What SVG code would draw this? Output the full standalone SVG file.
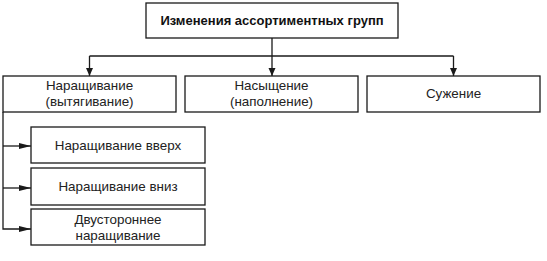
<svg xmlns="http://www.w3.org/2000/svg" width="547" height="261" viewBox="0 0 547 261">
<style>
.box{fill:#fff;stroke:#1a1a1a;stroke-width:1.3}
.t{font-family:"Liberation Sans",Arial,sans-serif;font-size:13.4px;fill:#222;text-anchor:middle}
.b{font-weight:bold;fill:#111;font-size:13px}
.c{fill:none;stroke:#1a1a1a;stroke-width:1.3}
</style>
<defs>
<marker id="ad" viewBox="0 0 8 10" refX="8" refY="5" markerWidth="9" markerHeight="10" markerUnits="userSpaceOnUse" orient="auto">
<path d="M0,1.5 L8,5 L0,8.5 Z" fill="#1a1a1a"/>
</marker>
<marker id="ar" viewBox="0 0 12 8" refX="12" refY="4" markerWidth="12" markerHeight="8" markerUnits="userSpaceOnUse" orient="auto">
<path d="M0,1 L12,4 L0,7 Z" fill="#1a1a1a"/>
</marker>
</defs>
<g id="connectors">
<path class="c" d="M272,38 V76" marker-end="url(#ad)"/>
<path class="c" d="M89.5,56 H453.5"/>
<path class="c" d="M89.5,56 V76" marker-end="url(#ad)"/>
<path class="c" d="M453.5,56 V76" marker-end="url(#ad)"/>
<path class="c" d="M3,112 V229 H31" marker-end="url(#ar)"/>
<path class="c" d="M3,146 H31" marker-end="url(#ar)"/>
<path class="c" d="M3,188 H31" marker-end="url(#ar)"/>
</g>
<g id="root">
<rect class="box" x="146" y="3" width="252" height="35"/>
<text class="t b" x="272" y="25">Изменения ассортиментных групп</text>
</g>
<g id="n1">
<rect class="box" x="3" y="76" width="173" height="36"/>
<text class="t" x="89.5" y="90">Наращивание</text>
<text class="t" x="89.5" y="106">(вытягивание)</text>
</g>
<g id="n2">
<rect class="box" x="185" y="76" width="173" height="36"/>
<text class="t" x="271.5" y="90">Насыщение</text>
<text class="t" x="271.5" y="106">(наполнение)</text>
</g>
<g id="n3">
<rect class="box" x="367" y="76" width="173" height="36"/>
<text class="t" x="453.5" y="98">Сужение</text>
</g>
<g id="s1">
<rect class="box" x="31" y="127" width="174" height="36"/>
<text class="t" x="118" y="150">Наращивание вверх</text>
</g>
<g id="s2">
<rect class="box" x="31" y="168" width="174" height="37"/>
<text class="t" x="118" y="191">Наращивание вниз</text>
</g>
<g id="s3">
<rect class="box" x="31" y="209" width="174" height="36"/>
<text class="t" x="118" y="224">Двустороннее</text>
<text class="t" x="118" y="240">наращивание</text>
</g>
</svg>
